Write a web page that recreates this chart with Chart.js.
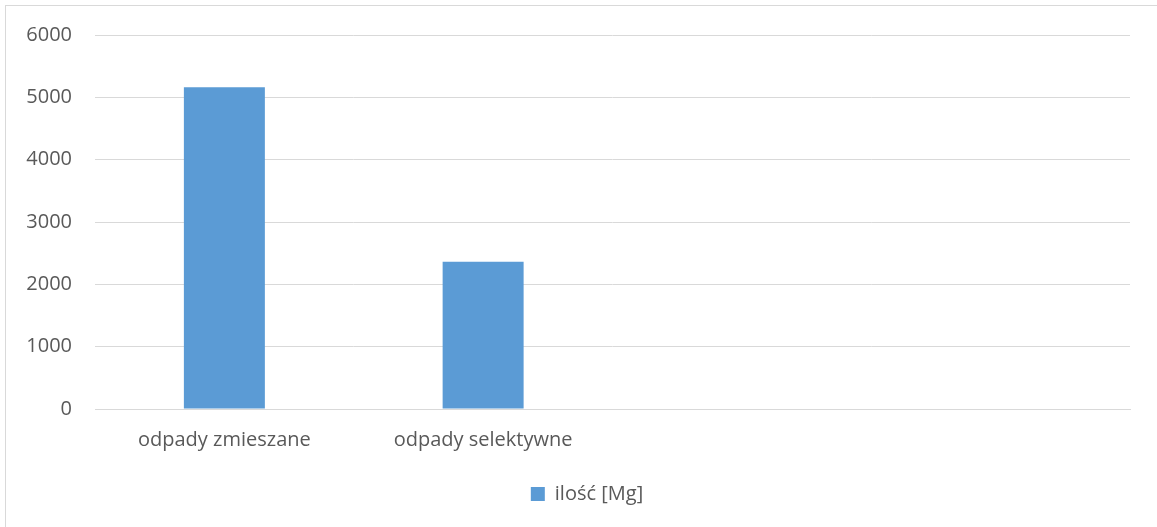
<!DOCTYPE html>
<html><head><meta charset="utf-8">
<script src="https://cdn.jsdelivr.net/npm/chart.js@4/dist/chart.umd.min.js"></script>
<style>
html,body{margin:0;padding:0;background:#fff;}
#wrap{position:absolute;left:0;top:0;width:1157px;height:527px;}
#frame{position:absolute;left:5px;top:5px;width:1160px;height:530px;border-left:1px solid #d9d9d9;border-top:1px solid #d9d9d9;box-sizing:border-box;}
canvas{position:absolute;left:0;top:0;}
</style></head>
<body>
<div id="wrap"><div id="frame"></div><canvas id="c" width="1157" height="527"></canvas></div>
<script>
const categories = ["odpady zmieszane", "odpady selektywne", "", ""];
const seriesName = "ilość [Mg]";
const values = [5161, 2363, null, null];
const yTicks = [0, 1000, 2000, 3000, 4000, 5000, 6000];

const fontFam = "'Open Sans', 'Liberation Sans', sans-serif";
const legendShift = {
  id: 'legendShift',
  afterLayout(chart) {
    const l = chart.legend;
    if (l) { l.left += 22; l.right += 22; }
  }
};
new Chart(document.getElementById('c'), {
  type: 'bar',
  data: {
    labels: categories,
    datasets: [{
      label: seriesName,
      data: values,
      backgroundColor: '#5b9bd5',
      borderWidth: 0,
      barPercentage: 0.313,
      categoryPercentage: 1.0
    }]
  },
  options: {
    responsive: false,
    animation: false,
    layout: { padding: { left: 0, right: 27, top: 24, bottom: 13 } },
    plugins: {
      legend: {
        position: 'bottom',
        labels: { color: '#595959', font: { family: fontFam, size: 20 }, boxWidth: 14, boxHeight: 14, padding: 13 }
      },
      tooltip: { enabled: false }
    },
    scales: {
      x: {
        grid: { display: false, drawTicks: false },
        border: { display: true, color: '#d9d9d9', width: 1 },
        ticks: { color: '#595959', font: { family: fontFam, size: 20 }, padding: 19, maxRotation: 0 }
      },
      y: {
        min: 0, max: 6000,
        afterBuildTicks: (axis) => { axis.ticks = yTicks.map(v => ({ value: v })); },
        afterFit: (axis) => { axis.width = 95; },
        grid: { color: '#d9d9d9', lineWidth: 1, drawTicks: false },
        border: { display: false },
        ticks: { color: '#595959', font: { family: fontFam, size: 20 }, padding: 23, callback: (v) => String(v) }
      }
    }
  },
  plugins: [legendShift]
});
</script>
</body></html>
